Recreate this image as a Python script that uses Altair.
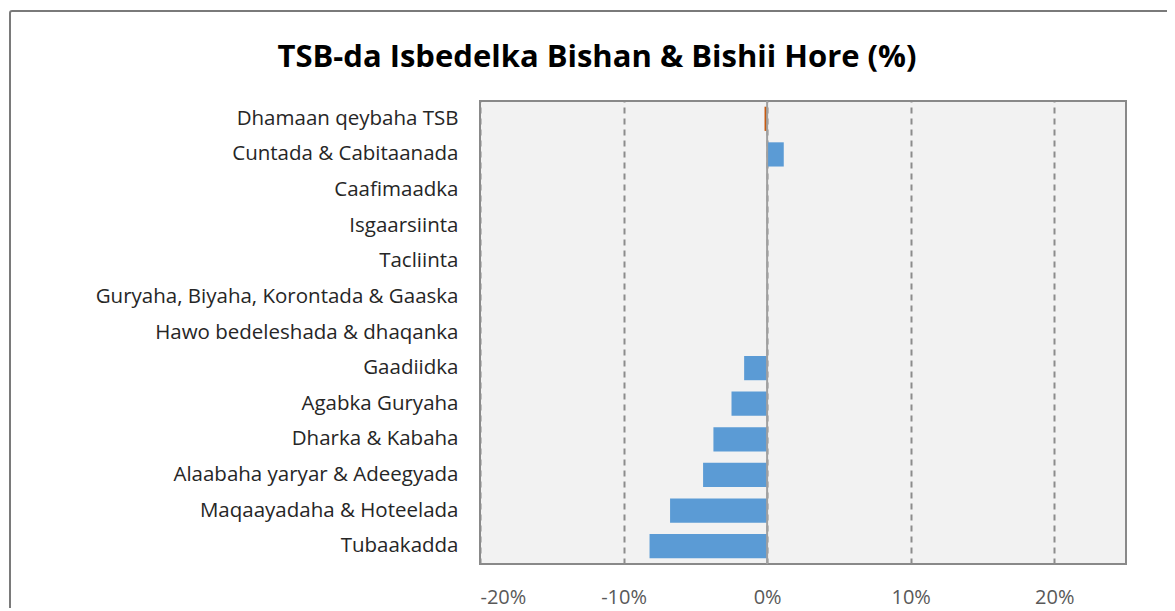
import altair as alt
import pandas as pd

categories = [
    "Dhamaan qeybaha  TSB",
    "Cuntada & Cabitaanada ",
    "Caafimaadka",
    "Isgaarsiinta",
    "Tacliinta",
    "Guryaha, Biyaha, Korontada & Gaaska",
    "Hawo bedeleshada & dhaqanka",
    "Gaadiidka",
    "Agabka Guryaha",
    "Dharka & Kabaha",
    "Alaabaha yaryar & Adeegyada",
    "Maqaayadaha & Hoteelada",
    "Tubaakadda",
]
values = [-0.18, 1.16, 0.0, 0.0, 0.0, 0.0, 0.0, -1.6, -2.48, -3.74, -4.46, -6.76, -8.19]
groups = ["total"] + ["sector"] * 12
tick_values = [-20, -10, 0, 10, 20]

df = pd.DataFrame({"cat": categories, "val": values, "grp": groups})

W, H = 646, 463
FONT = "Open Sans"

bars = alt.Chart(df).mark_bar().encode(
    y=alt.Y("cat:N", sort=categories, title=None,
            scale=alt.Scale(paddingInner=0.32, paddingOuter=0.16),
            axis=alt.Axis(domain=False, ticks=False, labelPadding=22,
                          labelFontSize=20.5, labelFont=FONT,
                          labelColor="#262626", labelLimit=600)),
    x=alt.X("val:Q", title=None,
            scale=alt.Scale(domain=[-20, 25], nice=False, zero=False),
            axis=alt.Axis(values=tick_values, domain=False, ticks=False,
                          labelExpr="datum.value + '%'", labelPadding=23,
                          labelFontSize=20, labelFont=FONT,
                          labelColor="#595959", grid=True, gridDash=[6, 5],
                          gridColor="#8c8c8c", gridWidth=2)),
    color=alt.Color("grp:N", scale=alt.Scale(domain=["total", "sector"],
                                             range=["#C55A11", "#5B9BD5"]),
                    legend=None),
)

zero = alt.Chart(alt.Data(values=[{"z": 0}])).mark_rule(color="#a0a0a0", strokeWidth=2).encode(
    x=alt.X("z:Q", scale=alt.Scale(domain=[-20, 25], nice=False, zero=False))
)

frame = alt.Chart(alt.Data(values=[{"a": 1}])).mark_rect(
    fill=None, stroke="#7a7a7a", strokeWidth=2, cornerRadius=2
).encode(
    x=alt.value(-470), x2=alt.value(800), y=alt.value(-90), y2=alt.value(600)
)

title = alt.Chart(alt.Data(values=[{"a": 1}])).mark_text(
    text="TSB-da Isbedelka Bishan & Bishii Hore (%)",
    font=FONT, fontSize=31, fontWeight="bold", color="#000000",
    align="center", baseline="middle"
).encode(x=alt.value(597 - 480), y=alt.value(58 - 101))

chart = alt.layer(frame, bars, zero, title).properties(
    width=W, height=H,
    autosize=alt.AutoSizeParams(type="none"),
    padding={"left": 472, "top": 93, "right": 41, "bottom": 44},
    background="#ffffff",
).configure_view(
    fill="#F2F2F2", stroke="#898989", strokeWidth=2
)

chart.save("out.html", embed_options={"renderer": "svg", "actions": False})
